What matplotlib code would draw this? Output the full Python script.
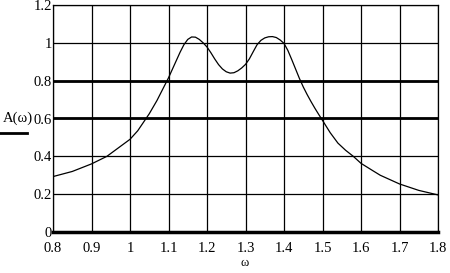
import numpy as np
import matplotlib.pyplot as plt

# curve A(omega)
omega = [0.80, 0.85, 0.90, 0.94, 0.97, 1.00, 1.02, 1.04, 1.05, 1.06, 1.07,
         1.08, 1.09, 1.10, 1.11, 1.12, 1.13, 1.14, 1.15, 1.16, 1.17, 1.18,
         1.19, 1.20, 1.21, 1.22, 1.23, 1.24, 1.25, 1.26, 1.27, 1.28, 1.29,
         1.30, 1.31, 1.32, 1.33, 1.34, 1.35, 1.36, 1.37, 1.38, 1.39, 1.40,
         1.41, 1.42, 1.43, 1.44, 1.45, 1.46, 1.47, 1.48, 1.49, 1.50, 1.52,
         1.54, 1.56, 1.58, 1.60, 1.63, 1.65, 1.70, 1.75, 1.80]
A = [0.293, 0.32, 0.36, 0.40, 0.445, 0.49, 0.535, 0.595, 0.625, 0.66, 0.695,
     0.735, 0.775, 0.815, 0.86, 0.905, 0.95, 0.99, 1.018, 1.031, 1.03, 1.018,
     1.0, 0.978, 0.948, 0.915, 0.885, 0.862, 0.847, 0.84, 0.842, 0.852, 0.867,
     0.886, 0.915, 0.953, 0.99, 1.013, 1.026, 1.032, 1.033, 1.028, 1.015, 0.997,
     0.96, 0.912, 0.862, 0.812, 0.767, 0.727, 0.69, 0.655, 0.622, 0.59, 0.525,
     0.47, 0.432, 0.40, 0.363, 0.325, 0.30, 0.254, 0.22, 0.196]

# extra horizontal traces
levels = [0.6, 0.8]

x_ticks = [0.8, 0.9, 1.0, 1.1, 1.2, 1.3, 1.4, 1.5, 1.6, 1.7, 1.8]
x_labels = ["0.8", "0.9", "1", "1.1", "1.2", "1.3", "1.4", "1.5", "1.6", "1.7", "1.8"]
y_ticks = [0, 0.2, 0.4, 0.6, 0.8, 1.0, 1.2]
y_labels = ["0", "0.2", "0.4", "0.6", "0.8", "1", "1.2"]

plt.rcParams['font.family'] = ['Liberation Serif', 'DejaVu Serif']

fig = plt.figure(figsize=(4.5, 2.73), dpi=100)
ax = fig.add_axes([53 / 450, 41 / 273, 385 / 450, 227 / 273])

ax.plot(omega, A, color="black", lw=0.9)
for lv in levels:
    ax.axhline(lv, color="black", lw=2.0)

ax.set_xlim(0.8, 1.8)
ax.set_ylim(0, 1.2)
ax.set_xticks(x_ticks)
ax.set_xticklabels(x_labels)
ax.set_yticks(y_ticks)
ax.set_yticklabels(y_labels)
ax.grid(True, color="black", lw=0.9)
ax.tick_params(length=0, labelsize=10.5)
ax.tick_params(axis="x", pad=7)
ax.tick_params(axis="y", pad=1)

for s in ax.spines.values():
    s.set_linewidth(0.9)
ax.spines["bottom"].set_linewidth(2.5)

fig.text(245 / 450, 1 - 263 / 273, "ω", ha="center", va="center", fontsize=9)
fig.text(3 / 450, 1 - 118 / 273, "A(ω)", ha="left", va="center", fontsize=10.5)
fig.add_artist(plt.Line2D([0, 27 / 450], [1 - 133 / 273, 1 - 133 / 273],
                          color="black", lw=2.0))

fig.savefig("out.png", dpi=100)
